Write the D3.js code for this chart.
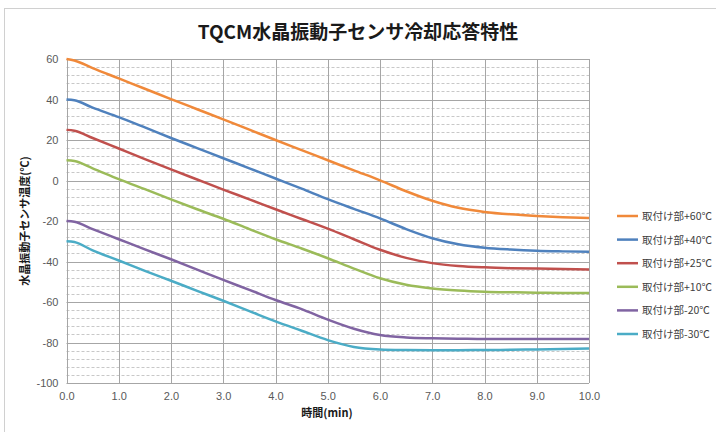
<!DOCTYPE html>
<html><head><meta charset="utf-8">
<script src="https://cdn.jsdelivr.net/npm/d3@7"></script>
<style>
html,body{margin:0;padding:0;background:#fff;}
svg{display:block;font-family:"Noto Sans CJK JP","Noto Sans",sans-serif;}
</style></head>
<body><svg id="c" width="716" height="432"></svg>
<script>
const times = [0,0.15,0.5,1,1.5,2,2.5,3,3.5,4,4.5,5,5.5,6,6.5,7,7.5,8,8.5,9,9.5,10];
const seriesNames = ["取付け部+60℃","取付け部+40℃","取付け部+25℃","取付け部+10℃","取付け部-20℃","取付け部-30℃"];
const s60 = [60,59.3,55.5,50.4,45.3,40.2,35.2,30.2,25.1,20,15,10,5,0.1,-5.3,-10,-13.5,-15.5,-16.7,-17.5,-18.1,-18.5];
const s40 = [40,39.6,36,31.3,26.2,21,16,11,6,1,-4,-9.2,-14,-18.7,-24,-28.5,-31.5,-33.2,-34.1,-34.7,-35,-35.2];
const s25 = [25,24.6,21,15.8,10.6,5.5,0.5,-4.5,-9.3,-14.2,-19,-23.8,-29,-34.2,-38.2,-40.8,-42.2,-42.9,-43.3,-43.5,-43.7,-43.9];
const s10 = [10,9.6,6,0.7,-4.3,-9.3,-14.2,-18.9,-24,-29,-33.6,-38.4,-43.5,-48.3,-51.5,-53.3,-54.3,-54.9,-55.2,-55.4,-55.5,-55.5];
const sm20 = [-20,-20.4,-24,-29,-34,-38.9,-44,-49.1,-54,-59,-63.5,-68.7,-73.2,-76.3,-77.5,-77.9,-78.1,-78.3,-78.3,-78.3,-78.3,-78.3];
const sm30 = [-30,-30.4,-34.5,-39.5,-44.6,-49.5,-54.5,-59.4,-64.5,-69.6,-74.2,-78.8,-82.2,-83.4,-83.7,-83.8,-83.8,-83.7,-83.6,-83.4,-83.2,-83];
const seriesValues = [s60,s40,s25,s10,sm20,sm30];
const colors = ["#F0893A","#4F81BD","#C0504D","#9BBB59","#8064A2","#4BACC6"];
const xTicks = [0,1,2,3,4,5,6,7,8,9,10];
const yTicks = [60,40,20,0,-20,-40,-60,-80,-100];
const title = "TQCM水晶振動子センサ冷却応答特性";
const xTitle = "時間(min)";
const yTitle = "水晶振動子センサ温度(℃)";

const svg = d3.select("#c");
const L=66.5, R=589, T=59, B=383;
const x = d3.scaleLinear().domain([0,10]).range([L,R]);
const y = d3.scaleLinear().domain([-100,60]).range([B,T]);

svg.append("rect").attr("x",4.5).attr("y",8.5).attr("width",730).attr("height",440)
  .attr("fill","#fff").attr("stroke","#d0d0d0").attr("stroke-width",1);

svg.append("text").attr("x",358).attr("y",39).attr("text-anchor","middle")
  .attr("font-size",19).attr("font-weight","bold").attr("fill","#1a1a1a").text(title);

const minor = d3.range(-100,61,4).filter(v=>v%20!==0);
svg.append("g").selectAll("line").data(minor).join("line")
  .attr("x1",L).attr("x2",R).attr("y1",d=>Math.round(y(d))+0.5).attr("y2",d=>Math.round(y(d))+0.5)
  .attr("stroke","#c8c8c8").attr("stroke-dasharray","3,2").attr("stroke-width",1);

svg.append("g").selectAll("line").data(yTicks).join("line")
  .attr("x1",L).attr("x2",R).attr("y1",d=>Math.round(y(d))+0.5).attr("y2",d=>Math.round(y(d))+0.5)
  .attr("stroke","#a6a6a6").attr("stroke-width",1);
svg.append("g").selectAll("line").data(xTicks).join("line")
  .attr("x1",d=>Math.round(x(d))+0.5).attr("x2",d=>Math.round(x(d))+0.5).attr("y1",T).attr("y2",B)
  .attr("stroke","#a6a6a6").attr("stroke-width",1);

const yAxis = svg.append("g").attr("transform",`translate(${L},0)`)
  .call(d3.axisLeft(y).tickValues(yTicks).tickSize(0).tickPadding(8).tickFormat(d=>String(d)));
const xAxis = svg.append("g").attr("transform",`translate(0,${B})`)
  .call(d3.axisBottom(x).tickValues(xTicks).tickSize(0).tickPadding(9).tickFormat(d=>d.toFixed(1)));
[yAxis,xAxis].forEach(a=>{
  a.select(".domain").remove();
  a.selectAll("text").attr("font-size",11).attr("fill","#595959")
   .attr("font-family","'Liberation Sans','Noto Sans',sans-serif");
});

svg.append("text").attr("x",327).attr("y",417).attr("text-anchor","middle")
  .attr("font-size",11).attr("font-weight","bold").attr("fill","#1a1a1a").text(xTitle);
svg.append("text").attr("transform",`translate(29,${(T+B)/2}) rotate(-90)`).attr("text-anchor","middle")
  .attr("font-size",11).attr("font-weight","bold").attr("fill","#1a1a1a").text(yTitle);

const line = d3.line().x((d,i)=>x(times[i])).y(d=>y(d)).curve(d3.curveMonotoneX);
seriesValues.forEach((vals,k)=>{
  svg.append("path").datum(vals).attr("d",line).attr("fill","none")
    .attr("stroke",colors[k]).attr("stroke-width",2.5).attr("stroke-linejoin","round");
});

const lg = svg.append("g");
seriesNames.forEach((n,k)=>{
  const yy = 216 + k*23.6;
  lg.append("line").attr("x1",617).attr("x2",638).attr("y1",yy).attr("y2",yy)
    .attr("stroke",colors[k]).attr("stroke-width",2.5);
  lg.append("text").attr("x",642).attr("y",yy+4).attr("font-size",10.5).attr("fill","#404040").text(n);
});
</script></body></html>
